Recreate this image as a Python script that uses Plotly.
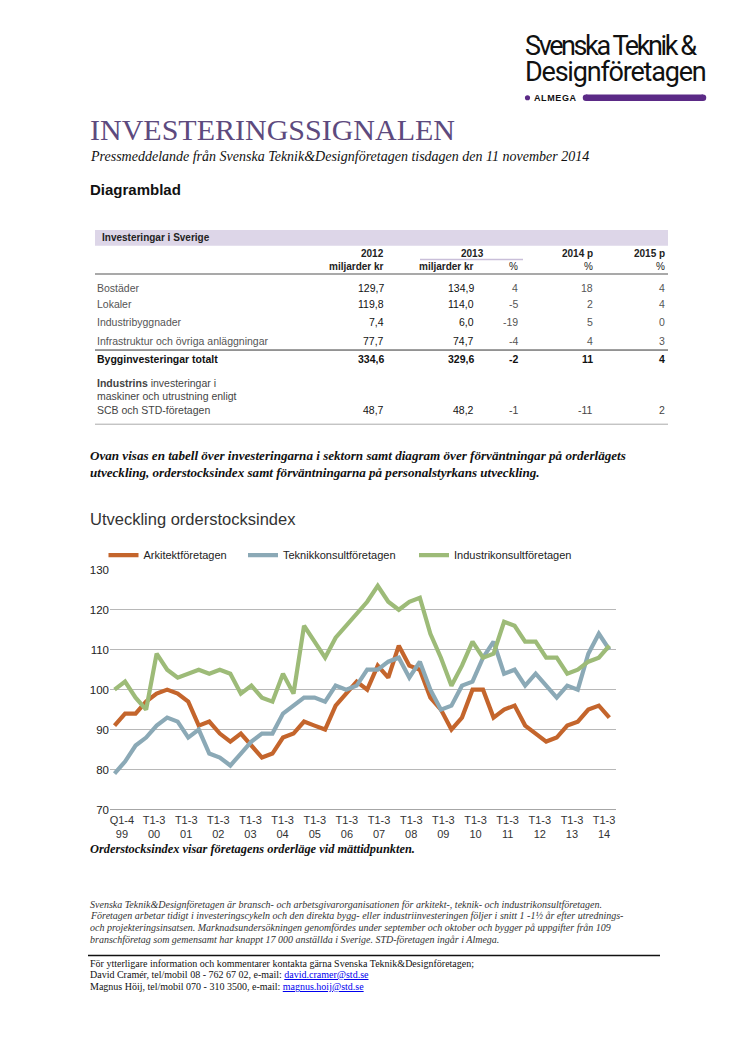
import numpy as np
import plotly.graph_objects as go

W, H = 746, 1056

# ---------------- data ----------------
arkitekt = [91, 94, 94, 97, 99, 100, 99, 97, 91, 92, 89, 87, 89, 86, 83, 84, 88, 89, 92, 91,
            90, 96, 99, 102, 100, 106, 103, 111, 106, 105, 98, 95, 90, 93, 100, 100, 93, 95, 96, 91,
            89, 87, 88, 91, 92, 95, 96, 93]
teknik = [79, 82, 86, 88, 91, 93, 92, 88, 90, 84, 83, 81, 84, 87, 89, 89, 94, 96, 98, 98,
          97, 101, 100, 101, 105, 105, 107, 108, 103, 107, 100, 95, 96, 101, 102, 108, 112, 104, 105, 101,
          104, 101, 98, 101, 100, 109, 114, 110]
industri = [100, 102, 98, 95, 109, 105, 103, 104, 105, 104, 105, 104, 99, 101, 98, 97, 104, 99, 116, 112,
            108, 113, 116, 119, 122, 126, 122, 120, 122, 123, 114, 108, 101, 106, 112, 108, 109, 117, 116, 112,
            112, 108, 108, 104, 105, 107, 108, 111]
series_names = ["Arkitektföretagen", "Teknikkonsultföretagen", "Industrikonsultföretagen"]
tick_labels = ["Q1-4<br>99"] + ["T1-3<br>%02d" % y for y in range(0, 15)]

row_labels = ["Bostäder", "Lokaler", "Industribyggnader", "Infrastruktur och övriga anläggningar"]
mkr_2012 = [129.7, 119.8, 7.4, 77.7]
mkr_2013 = [134.9, 114.0, 6.0, 74.7]
pct_2013 = [4, -5, -19, -4]
pct_2014 = [18, 2, 5, 4]
pct_2015 = [4, 4, 0, 3]
total_row = ["Bygginvesteringar totalt", 334.6, 329.6, -2, 11, 4]
industry_row = ["SCB och STD-företagen", 48.7, 48.2, -1, -11, 2]

# ---------------- helpers ----------------
SANS = "Liberation Sans, Arial, Helvetica, sans-serif"
SERIF = "Liberation Serif, Times New Roman, serif"
LOGO = "Roboto, Liberation Sans, sans-serif"
PURPLE = "#5b2a86"


def px(x):
    return x / W


def py(y):
    return 1 - y / H


annotations = []
shapes = []


def txt(x, y, text, size, family=SANS, color="#222", xanchor="left", yanchor="middle"):
    annotations.append(dict(x=px(x), y=py(y), xref="paper", yref="paper", text=text,
                            showarrow=False, xanchor=xanchor, yanchor=yanchor, align="left",
                            font=dict(size=size, family=family, color=color)))


def hline(x0, x1, y, color, width):
    shapes.append(dict(type="line", xref="paper", yref="paper", x0=px(x0), x1=px(x1),
                       y0=py(y), y1=py(y), line=dict(color=color, width=width)))


def rect(x0, y0, x1, y1, color):
    shapes.append(dict(type="rect", xref="paper", yref="paper", x0=px(x0), x1=px(x1),
                       y0=py(y1), y1=py(y0), fillcolor=color, line=dict(width=0), layer="below"))


def circle(cx, cy, r, color):
    shapes.append(dict(type="circle", xref="paper", yref="paper", x0=px(cx - r), x1=px(cx + r),
                       y0=py(cy + r), y1=py(cy - r), fillcolor=color, line=dict(width=0)))


def fmt(v):
    if isinstance(v, float):
        return ("%.1f" % v).replace(".", ",")
    return str(v)


# ---------------- logo ----------------
txt(523, 54,
    "<span style='font-size:27px;letter-spacing:-2.4px'>Svenska Teknik &amp;</span><br>"
    "<span style='font-size:27px;letter-spacing:-1.2px'>Designföretagen</span>",
    20, LOGO, "#111")
circle(527.5, 92.8, 2.6, PURPLE)
txt(531.5, 93, "<span style='letter-spacing:0.6px'><b>ALMEGA</b></span>", 9, SANS, "#111")
rect(586, 89.5, 703, 96, PURPLE)
circle(586, 92.75, 3.25, PURPLE)
circle(703, 92.75, 3.25, PURPLE)

# ---------------- header texts ----------------
txt(88, 125, "INVESTERINGSSIGNALEN", 30, SERIF, "#5d4a7e")
txt(88, 152.5, "<i>Pressmeddelande från Svenska Teknik&amp;Designföretagen tisdagen den 11 november 2014</i>",
    14, SERIF, "#111")
txt(88, 186, "<b>Diagramblad</b>", 15, SANS, "#111")

# ---------------- table ----------------
rect(95, 226.5, 668, 242.5, "#ddd6e8")
txt(100, 234.5, "<b>Investeringar i Sverige</b>", 10, SANS, "#222")
col_r = [386, 476, 520, 595, 666.5]
txt(col_r[0], 250, "<b>2012</b>", 10, SANS, "#222", xanchor="right")
txt(472, 250, "<b>2013</b>", 10, SANS, "#222", xanchor="center")
hline(420, 523, 256.5, "#c9bfd9", 1.5)
txt(col_r[3], 250, "<b>2014 p</b>", 10, SANS, "#222", xanchor="right")
txt(col_r[4], 250, "<b>2015 p</b>", 10, SANS, "#222", xanchor="right")
txt(col_r[0], 263, "<b>miljarder kr</b>", 10, SANS, "#222", xanchor="right")
txt(col_r[1], 263, "<b>miljarder kr</b>", 10, SANS, "#222", xanchor="right")
for c in col_r[2:]:
    txt(c, 263, "%", 10, SANS, "#222", xanchor="right")
hline(95, 668, 271, "#8c8c8c", 1.5)

row_y = [285, 301, 319.5, 338.5]
for i, lab in enumerate(row_labels):
    txt(95, row_y[i], lab, 10.5, SANS, "#555")
    vals = [mkr_2012[i], mkr_2013[i], pct_2013[i], pct_2014[i], pct_2015[i]]
    for j, v in enumerate(vals):
        color = "#111" if j < 2 else "#555"
        txt(col_r[j], row_y[i], fmt(v), 10.5, SANS, color, xanchor="right")

hline(95, 668, 348, "#333", 1)
txt(95, 357, "<b>" + total_row[0] + "</b>", 10.5, SANS, "#111")
for j, v in enumerate(total_row[1:]):
    txt(col_r[j], 357, "<b>" + fmt(v) + "</b>", 10.5, SANS, "#111", xanchor="right")

txt(95, 381, "<b>Industrins</b> investeringar i", 10.5, SANS, "#444")
txt(95, 394, "maskiner och utrustning enligt", 10.5, SANS, "#444")
txt(95, 409, industry_row[0], 10.5, SANS, "#444")
for j, v in enumerate(industry_row[1:]):
    color = "#111" if j < 2 else "#444"
    txt(col_r[j], 409, fmt(v), 10.5, SANS, color, xanchor="right")
hline(95, 668, 423, "#aaa", 1)

# ---------------- paragraph ----------------
txt(88, 455, "<b><i>Ovan visas en tabell över investeringarna i sektorn samt diagram över förväntningar på orderlägets</i></b>",
    13.1, SERIF, "#111")
txt(88, 472, "<b><i>utveckling, orderstocksindex samt förväntningarna på personalstyrkans utveckling.</i></b>",
    13.1, SERIF, "#111")

txt(88, 519, "Utveckling orderstocksindex", 16.5, SANS, "#333")

# ---------------- chart ----------------
x_idx = list(range(len(arkitekt)))
colors = ["#c4652c", "#8ba9b6", "#9dbb78"]
legends = ["legend", "legend2", "legend3"]
fig = go.Figure()
for name, ys, col, lg in zip(series_names, [arkitekt, teknik, industri], colors, legends):
    fig.add_trace(go.Scatter(x=x_idx, y=ys, mode="lines", name=name, legend=lg,
                             line=dict(color=col, width=4.2)))

leg_common = dict(orientation="h", xanchor="left", yanchor="middle", y=py(555.5),
                  bgcolor="rgba(0,0,0,0)", font=dict(size=11, family=SANS, color="#222"),
                  borderwidth=0, itemclick=False)

txt(88, 852.5, "<b><i>Orderstocksindex visar företagens orderläge vid mättidpunkten.</i></b>", 12.4, SERIF, "#111")

# ---------------- footer ----------------
foot = [
    "Svenska Teknik&amp;Designföretagen är bransch- och arbetsgivarorganisationen för arkitekt-, teknik- och industrikonsultföretagen.",
    "Företagen arbetar tidigt i investeringscykeln och den direkta bygg- eller industriinvesteringen följer i snitt 1 -1½ år efter utrednings-",
    "och projekteringsinsatsen. Marknadsundersökningen genomfördes under september och oktober och bygger på uppgifter från 109",
    "branschföretag som gemensamt har knappt 17 000 anställda i Sverige. STD-företagen ingår i Almega.",
]
for k, line in enumerate(foot):
    txt(88, 908.5 + k * 11.8, "<i>" + line + "</i>", 10, SERIF, "#333")
hline(88, 660, 960.5, "#111", 1.5)
LINK = "<span style='color:#0000ee;text-decoration:underline'>%s</span>"
txt(88, 969, "För ytterligare information och kommentarer kontakta gärna Svenska Teknik&amp;Designföretagen;", 10, SERIF, "#111")
txt(88, 980, "David Cramér, tel/mobil 08 - 762 67 02, e-mail: " + LINK % "david.cramer@std.se", 10, SERIF, "#111")
txt(88, 991.5, "Magnus Höij, tel/mobil 070 - 310 3500, e-mail: " + LINK % "magnus.hoij@std.se", 10, SERIF, "#111")

fig.update_layout(
    width=W, height=H, margin=dict(l=0, r=0, t=0, b=0),
    paper_bgcolor="white", plot_bgcolor="white",
    showlegend=True,
    legend=dict(x=px(103.5), **leg_common),
    legend2=dict(x=px(243), **leg_common),
    legend3=dict(x=px(414), **leg_common),
    xaxis=dict(domain=[px(110), px(616)], range=[-0.43, 47.63],
               tickmode="array", tickvals=list(np.linspace(0.7, 46.5, len(tick_labels))),
               ticktext=tick_labels, showgrid=False, zeroline=False,
               showline=True, linecolor="#a6a6a6", linewidth=1.3, ticks="",
               tickfont=dict(size=11, family=SANS, color="#333"), fixedrange=True),
    yaxis=dict(domain=[py(812.7), py(570.3)], range=[70, 130], dtick=10,
               showgrid=True, gridcolor="#b8b8b8", gridwidth=1.3, zeroline=False,
               ticks="", tickfont=dict(size=11.5, family=SANS, color="#222"), fixedrange=True),
    annotations=annotations, shapes=shapes,
)

fig.write_html("out.html", config={"displayModeBar": False},
               post_script="document.body.style.margin='0';document.body.style.overflow='hidden';")
